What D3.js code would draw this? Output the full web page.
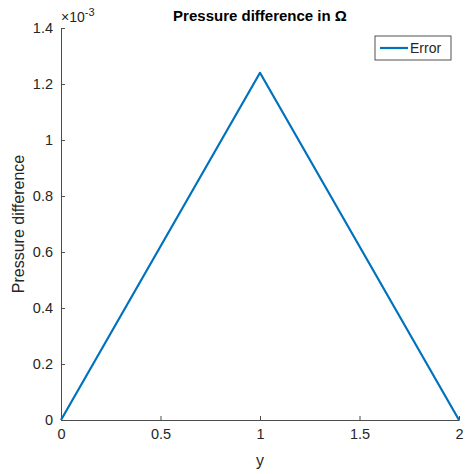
<!DOCTYPE html>
<html>
<head>
<meta charset="utf-8">
<script src="https://cdn.jsdelivr.net/npm/d3@7"></script>
<style>
  body { margin: 0; background: #fff; }
  svg { font-family: "Liberation Sans", Arial, sans-serif; }
</style>
</head>
<body>
<div id="chart"></div>
<script>
// data
const yValues = [0, 1, 2];
const pressureDiff = [0, 1.24e-3, 0];
const xTicks = [0, 0.5, 1, 1.5, 2];
const yTicks = [0, 0.2, 0.4, 0.6, 0.8, 1, 1.2, 1.4];
const seriesName = "Error";

const width = 467, height = 474;
const margin = { left: 61, top: 28, right: 8, bottom: 55 };
const plotW = 459 - margin.left;
const plotH = 420 - margin.top;

const svg = d3.select("#chart").append("svg")
    .attr("width", width)
    .attr("height", height);

const x = d3.scaleLinear().domain([0, 2]).range([margin.left, margin.left + plotW]);
const y = d3.scaleLinear().domain([0, 1.4e-3]).range([margin.top + plotH, margin.top]);

const axisColor = "#262626";
const tickColor = "#4d4d4d";

// x axis
const xAxis = svg.append("g")
    .attr("transform", `translate(0,${margin.top + plotH})`)
    .call(d3.axisBottom(x).tickValues(xTicks).tickSizeInner(-4).tickSizeOuter(0)
        .tickPadding(9).tickFormat(d3.format("")));
xAxis.select(".domain").attr("stroke", tickColor);
xAxis.selectAll(".tick line").attr("stroke", tickColor);
xAxis.selectAll("text").attr("fill", axisColor).attr("font-size", 14.5);

// y axis
const yAxis = svg.append("g")
    .attr("transform", `translate(${margin.left},0)`)
    .call(d3.axisLeft(y).tickValues(yTicks.map(v => v * 1e-3)).tickSizeInner(-4).tickSizeOuter(0)
        .tickPadding(8).tickFormat(d => d3.format("")(+(d * 1e3).toFixed(1))));
yAxis.select(".domain").attr("stroke", tickColor);
yAxis.selectAll(".tick line").attr("stroke", tickColor);
yAxis.selectAll("text").attr("fill", axisColor).attr("font-size", 14.5);

// exponent label
const expo = svg.append("text")
    .attr("x", margin.left)
    .attr("y", margin.top - 6)
    .attr("fill", axisColor)
    .attr("font-size", 14);
expo.append("tspan").text("\u00d710");
expo.append("tspan").attr("dy", -6).attr("font-size", 11).text("-3");

// line
const line = d3.line().x((d, i) => x(yValues[i])).y(d => y(d));
svg.append("path")
    .datum(pressureDiff)
    .attr("d", line)
    .attr("fill", "none")
    .attr("stroke", "#0072bd")
    .attr("stroke-width", 2.2)
    .attr("stroke-linejoin", "round");

// title
svg.append("text")
    .attr("x", margin.left + plotW / 2)
    .attr("y", 21)
    .attr("text-anchor", "middle")
    .attr("font-weight", "bold")
    .attr("font-size", 15)
    .attr("fill", "#000")
    .text("Pressure difference in \u03a9");

// axis labels
svg.append("text")
    .attr("x", margin.left + plotW / 2)
    .attr("y", 466)
    .attr("text-anchor", "middle")
    .attr("font-size", 16)
    .attr("fill", axisColor)
    .text("y");

svg.append("text")
    .attr("transform", `translate(24,${margin.top + plotH / 2}) rotate(-90)`)
    .attr("text-anchor", "middle")
    .attr("font-size", 16)
    .attr("fill", axisColor)
    .text("Pressure difference");

// legend
const lg = svg.append("g").attr("transform", "translate(375,36)");
lg.append("rect")
    .attr("width", 76).attr("height", 24)
    .attr("fill", "#fff").attr("stroke", "#262626").attr("stroke-width", 0.8);
lg.append("line")
    .attr("x1", 5).attr("x2", 33).attr("y1", 12).attr("y2", 12)
    .attr("stroke", "#0072bd").attr("stroke-width", 2.2);
lg.append("text")
    .attr("x", 35).attr("y", 17)
    .attr("font-size", 14)
    .attr("fill", axisColor)
    .text(seriesName);
</script>
</body>
</html>
